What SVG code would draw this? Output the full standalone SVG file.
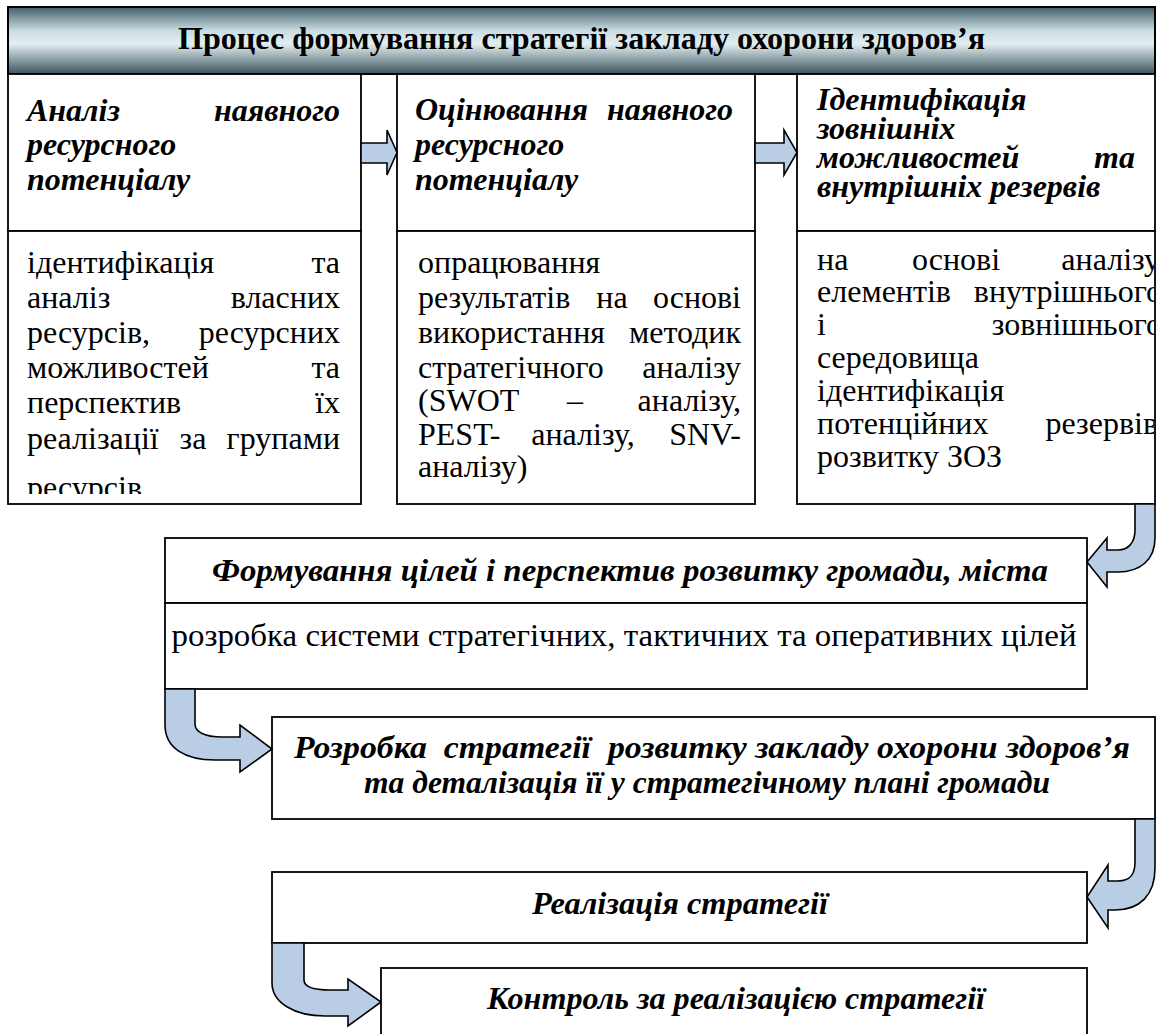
<svg xmlns="http://www.w3.org/2000/svg" width="1167" height="1034" viewBox="0 0 1167 1034">
<style>
.hd{font-family:"Liberation Serif","DejaVu Serif",serif;font-weight:bold;font-size:32px;fill:#000}
.bi{font-family:"Liberation Serif","DejaVu Serif",serif;font-weight:bold;font-style:italic;font-size:32px;fill:#000}
.rg{font-family:"Liberation Serif","DejaVu Serif",serif;font-size:32px;fill:#000}
.box{fill:#fff;stroke:#000;stroke-width:1.8}
.arr{fill:#b9cde5;stroke:#000;stroke-width:1.6;stroke-linejoin:miter}
.e{text-anchor:end}
.m{text-anchor:middle}
</style>
<defs>
<linearGradient id="hdr" x1="0" y1="0" x2="0" y2="1">
<stop offset="0" stop-color="#425d68"/>
<stop offset="0.35" stop-color="#c8dce2"/>
<stop offset="0.55" stop-color="#e2eef1"/>
<stop offset="1" stop-color="#3c555f"/>
</linearGradient>
<clipPath id="c1"><rect x="8" y="231" width="353" height="263"/></clipPath>
<clipPath id="c3"><rect x="797" y="231" width="357" height="273"/></clipPath>
</defs>
<rect width="1167" height="1034" fill="#fff"/>

<g id="header">
<rect x="8" y="7" width="1147" height="67" fill="url(#hdr)" stroke="#000" stroke-width="2"/>
<text class="hd m" x="581.5" y="49" textLength="807" lengthAdjust="spacingAndGlyphs">Процес формування стратегії закладу охорони здоров’я</text>
</g>

<g id="col1-head">
<rect class="box" x="8" y="74" width="353" height="157"/>
<text class="bi" x="27" y="121">Аналіз</text><text class="bi e" x="340" y="121">наявного</text>
<text class="bi" x="27" y="155">ресурсного</text>
<text class="bi" x="27" y="190">потенціалу</text>
</g>
<g id="col1-body">
<rect class="box" x="8" y="231" width="353" height="273"/>
<g clip-path="url(#c1)">
<text class="rg" x="27" y="273">ідентифікація</text><text class="rg e" x="340" y="273">та</text>
<text class="rg" x="27" y="308">аналіз</text><text class="rg e" x="340" y="308">власних</text>
<text class="rg" x="27" y="343">ресурсів,</text><text class="rg e" x="340" y="343">ресурсних</text>
<text class="rg" x="27" y="378">можливостей</text><text class="rg e" x="340" y="378">та</text>
<text class="rg" x="27" y="413">перспектив</text><text class="rg e" x="340" y="413">їх</text>
<text class="rg" x="27" y="449">реалізації</text><text class="rg m" x="193" y="449">за</text><text class="rg e" x="340" y="449">групами</text>
<text class="rg" x="27" y="498">ресурсів</text>
</g>
</g>

<g id="col2-head">
<rect class="box" x="397" y="74" width="358" height="157"/>
<text class="bi" x="415" y="120">Оцінювання</text><text class="bi e" x="733" y="120">наявного</text>
<text class="bi" x="415" y="155">ресурсного</text>
<text class="bi" x="415" y="190">потенціалу</text>
</g>
<g id="col2-body">
<rect class="box" x="397" y="231" width="358" height="273"/>
<text class="rg" x="418" y="273">опрацювання</text>
<text class="rg" x="418" y="308">результатів</text><text class="rg m" x="612" y="308">на</text><text class="rg e" x="741" y="308">основі</text>
<text class="rg" x="418" y="343">використання</text><text class="rg e" x="741" y="343">методик</text>
<text class="rg" x="418" y="378">стратегічного</text><text class="rg e" x="741" y="378">аналізу</text>
<text class="rg" x="418" y="411">(SWOT</text><text class="rg m" x="575" y="411">–</text><text class="rg e" x="741" y="411">аналізу,</text>
<text class="rg" x="418" y="445">PEST-</text><text class="rg m" x="583" y="445">аналізу,</text><text class="rg e" x="741" y="445">SNV-</text>
<text class="rg" x="418" y="477">аналізу)</text>
</g>

<g id="col3-head">
<rect class="box" x="797" y="74" width="358" height="157"/>
<text class="bi" x="817" y="110">Ідентифікація</text>
<text class="bi" x="817" y="139">зовнішніх</text>
<text class="bi" x="817" y="168">можливостей</text><text class="bi e" x="1135" y="168">та</text>
<text class="bi" x="817" y="197">внутрішніх резервів</text>
</g>
<g id="col3-body">
<rect class="box" x="797" y="231" width="358" height="273"/>
<g clip-path="url(#c3)">
<text class="rg" x="817" y="270">на</text><text class="rg m" x="956" y="270">основі</text><text class="rg e" x="1160" y="270">аналізу</text>
<text class="rg" x="817" y="302">елементів</text><text class="rg e" x="1162" y="302">внутрішнього</text>
<text class="rg" x="817" y="335">і</text><text class="rg e" x="1162" y="335">зовнішнього</text>
<text class="rg" x="817" y="368">середовища</text>
<text class="rg" x="817" y="401">ідентифікація</text>
<text class="rg" x="817" y="434">потенційних</text><text class="rg e" x="1158" y="434">резервів</text>
<text class="rg" x="817" y="467">розвитку ЗОЗ</text>
</g>
</g>

<g id="goals">
<rect class="box" x="165" y="538" width="922" height="65"/>
<rect class="box" x="165" y="603" width="922" height="86"/>
<text class="bi m" x="630" y="581" textLength="836" lengthAdjust="spacingAndGlyphs">Формування цілей і перспектив розвитку громади, міста</text>
<text class="rg m" x="624" y="646" textLength="905" lengthAdjust="spacingAndGlyphs">розробка системи стратегічних, тактичних та оперативних цілей</text>
</g>

<g id="strategy">
<rect class="box" x="272" y="717" width="883" height="102"/>
<text class="bi m" x="712" y="758" style="white-space:pre" textLength="836" lengthAdjust="spacingAndGlyphs">Розробка  стратегії  розвитку закладу охорони здоров’я</text>
<text class="bi m" x="707" y="793" textLength="686" lengthAdjust="spacingAndGlyphs">та деталізація її у стратегічному плані громади</text>
</g>

<g id="implementation">
<rect class="box" x="272" y="872" width="815" height="71"/>
<text class="bi m" x="680" y="914" textLength="296" lengthAdjust="spacingAndGlyphs">Реалізація стратегії</text>
</g>

<g id="control">
<rect class="box" x="381" y="968" width="706" height="90"/>
<text class="bi m" x="736" y="1009" textLength="498" lengthAdjust="spacingAndGlyphs">Контроль за реалізацією стратегії</text>
</g>

<g id="connectors">
<path class="arr" d="M361,143 L387,143 L387,130 L397,152.5 L387,175 L387,163 L361,163 Z"/>
<path class="arr" d="M755,143 L784,143 L784,130 L797,152.5 L784,175 L784,163 L755,163 Z"/>
<path class="arr" d="M1135,504 L1155,504 L1155,538 C1155,560 1140,572 1118,572 L1107,572 L1107,587 L1087,562 L1107,538 L1107,550 L1118,550 C1128,550 1135,543 1135,530 Z"/>
<path class="arr" d="M165,689 L195,689 L195,724 C195,732 205,737 222,737 L240,737 L240,725 L272,749 L240,772 L240,760 L215,760 C185,760 165,748 165,725 Z"/>
<path class="arr" d="M1135,819 L1155,819 L1155,868 C1155,895 1140,910 1115,910 L1108,910 L1108,928 L1087,897 L1108,865 L1108,881 L1118,881 C1130,881 1135,875 1135,862 Z"/>
<path class="arr" d="M272,943 L304,943 L304,980 C304,987 315,990 330,990 L348,990 L348,979 L381,1002 L348,1026 L348,1016 L325,1016 C295,1016 272,1003 272,983 Z"/>
</g>
</svg>
